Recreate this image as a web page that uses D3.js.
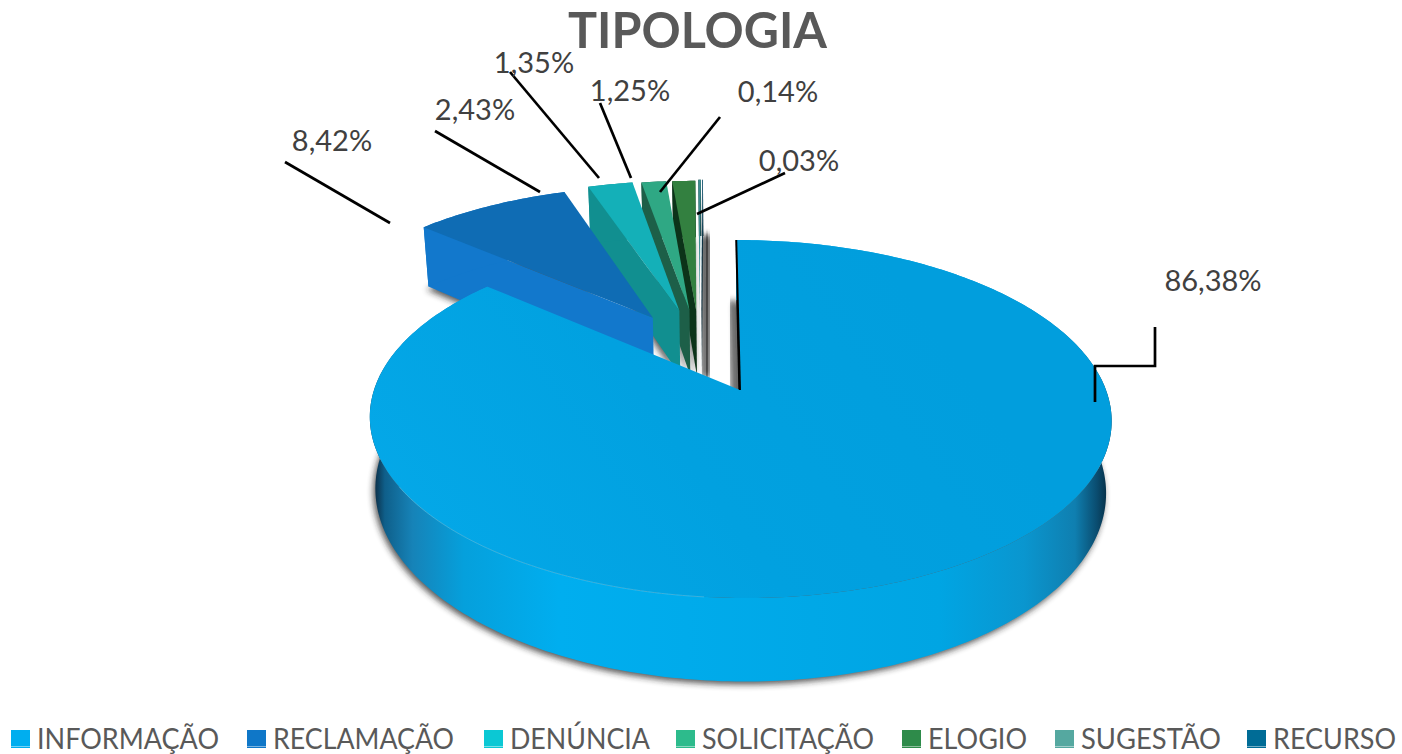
<!DOCTYPE html>
<html>
<head>
<meta charset="utf-8">
<script src="https://cdn.jsdelivr.net/npm/d3@7"></script>
<style>
  html, body { margin: 0; padding: 0; background: #fff; overflow: hidden; }
  svg { display: block; font-family: Lato, "Noto Sans", sans-serif; }
</style>
</head>
<body>
<div id="chart"></div>
<script>
// chart data
var categories = ["INFORMAÇÃO", "RECLAMAÇÃO", "DENÚNCIA", "SOLICITAÇÃO", "ELOGIO", "SUGESTÃO", "RECURSO"];
var values = [86.38, 8.42, 2.43, 1.35, 1.25, 0.14, 0.03];
var valueLabels = ["86,38%", "8,42%", "2,43%", "1,35%", "1,25%", "0,14%", "0,03%"];
var chartTitle = "TIPOLOGIA";

// look of each slice: legend, top face, side face
var legendColors = ["#00aeef", "#0f77c8", "#0bc8d4", "#2dbb8c", "#2e8b4a", "#55a8a0", "#006c96"];
var topColors = ["url(#mainTop)", "#0f6cb4", "#14b0b8", "#2fa884", "#338040", "#3f8f92", "#00577a"];
var sideColors = ["url(#mainSide)", "#1278cc", "#118f90", "#1d5f48", "#0c3319", "#0a2a2c", "#02202e"];

// how far each slice is pulled out, in pie radii (right, back)
var explode = [[0, 0], [-0.25, 0.445], [-0.173, 0.49], [-0.143, 0.49], [-0.123, 0.49], [-0.113, 0.5], [-0.108, 0.5]];

// label text anchors and leader lines
var labelAt = [[1213, 291], [332, 151], [475, 120], [534, 73], [630, 101], [778, 102], [799, 171]];
var leaders = [
    [[1095, 402], [1095, 366], [1155, 366], [1155, 327]],
    [[285, 162], [390, 223]],
    [[435, 131], [540, 192]],
    [[510, 72], [599, 178]],
    [[600, 103], [631, 178]],
    [[720, 117], [660, 192]],
    [[785, 173], [697, 214]]
];

// legend layout
var legendX = [11, 247, 484, 676, 902, 1055, 1247];
var legendTextLen = [182, 181, 140, 172, 99, 140, 123];

var width = 1402, height = 754;
var depth = 70;       // height of the pie
var persp = 0.162;    // far side shrinks by this much
var baseShrink = 0.985; // bottom rim looks a bit narrower than the top

var svg = d3.select("#chart").append("svg")
    .attr("width", width)
    .attr("height", height);

// scales for the pie plane, apex of the big slice at 0,0
var x = d3.scaleLinear().domain([-1, 1]).range([740 - 366, 740 + 366]);
var y = d3.scaleLinear().domain([-1, 1]).range([390 + 174.3, 390 - 174.3]);

function project(u, v, low) {
    var w = 1 + persp * v;
    var px = x((u - 0.012 * v) / w);
    var py = y(v / w);
    if (low) return [x(x.invert(px) * baseShrink), py + depth / w];
    return [px, py];
}

var slices = d3.pie().sort(null).value(d => d)(values);

// points along the rim of a slice
function rim(d, i, low) {
    var off = explode[i];
    var n = Math.max(2, Math.ceil((d.endAngle - d.startAngle) * 60));
    return d3.range(n + 1).map(k => {
        var a = d.startAngle + (d.endAngle - d.startAngle) * k / n;
        return project(Math.sin(a) + off[0], Math.cos(a) + off[1], low);
    });
}
function apex(i, low) {
    return project(explode[i][0], explode[i][1], low);
}

var line = d3.line();
function closed(pts) { return line(pts) + "Z"; }

// gradients
var defs = svg.append("defs");
function gradient(id, x1, y1, x2, y2, stops) {
    var g = defs.append("linearGradient")
        .attr("id", id)
        .attr("gradientUnits", "userSpaceOnUse")
        .attr("x1", x1).attr("y1", y1).attr("x2", x2).attr("y2", y2);
    stops.forEach(s => g.append("stop").attr("offset", s[0]).attr("stop-color", s[1]));
}
gradient("mainTop", 450, 600, 900, 280, [[0, "#04a8e8"], [0.5, "#01a1e0"], [1, "#019edd"]]);
gradient("mainSide", 376, 0, 1108, 0, [
    [0, "#0c3550"], [0.012, "#0f5f8a"], [0.05, "#1683b8"], [0.12, "#05a0dc"], [0.25, "#00aeef"],
    [0.77, "#00a5e3"], [0.885, "#0a96cf"], [0.955, "#0f7fb0"], [0.985, "#0a4c6f"], [1, "#062e45"]
]);
defs.append("filter").attr("id", "soft")
    .attr("x", "-60%").attr("y", "-20%").attr("width", "220%").attr("height", "140%")
    .append("feGaussianBlur").attr("stdDeviation", 3);

// far slices first, big slice last
var order = [6, 5, 4, 3, 2, 1, 0];
var pie = svg.append("g");

// soft shadow under the slices, the thin ones need some body to show
order.forEach(i => {
    var low = rim(slices[i], i, true).concat([apex(i, true)]);
    pie.append("path")
        .attr("d", closed(low))
        .attr("transform", i >= 5 ? "translate(5,3)" : "translate(-2,3)")
        .attr("fill", "#222")
        .attr("stroke", i >= 5 ? "#222" : "none")
        .attr("stroke-width", 8)
        .attr("opacity", 0.75)
        .attr("filter", "url(#soft)");
});
// shadow of the cut edge of the big slice
pie.append("path")
    .attr("d", line([[project(0, 1, true)[0] - 4, project(0, 1, true)[1]], [apex(0, true)[0] - 4, apex(0, true)[1]]]))
    .attr("stroke", "#222")
    .attr("stroke-width", 7)
    .attr("opacity", 0.7)
    .attr("fill", "none")
    .attr("filter", "url(#soft)");

order.forEach(i => {
    var d = slices[i];
    var top = rim(d, i, false), low = rim(d, i, true);
    var g = pie.append("g");

    // cut face on the start edge
    g.append("path")
        .attr("d", closed([apex(i, false), top[0], low[0], apex(i, true)]))
        .attr("fill", i == 0 ? "#000" : sideColors[i]);

    // outer wall
    g.append("path")
        .attr("d", closed(top.concat(low.slice().reverse())))
        .attr("fill", sideColors[i]);

    // top face
    g.append("path")
        .attr("d", closed(top.concat([apex(i, false)])))
        .attr("fill", topColors[i]);
});

// black seam on the start edge of the big slice, light rim on the front
pie.append("path")
    .attr("d", line([project(0, 1), apex(0, false)]))
    .attr("stroke", "#000")
    .attr("stroke-width", 2)
    .attr("fill", "none");
pie.append("path")
    .attr("d", line(rim({startAngle: Math.PI * 1.03, endAngle: Math.PI * 1.33}, 0, false)))
    .attr("stroke", "#5fd0f7")
    .attr("stroke-width", 1)
    .attr("opacity", 0.5)
    .attr("fill", "none");

// leader lines
svg.append("g").selectAll("path")
    .data(leaders)
    .join("path")
    .attr("d", d => line(d))
    .attr("fill", "none")
    .attr("stroke", "#000")
    .attr("stroke-width", 2.7);

// value labels
svg.append("g").selectAll("text")
    .data(valueLabels)
    .join("text")
    .attr("x", (d, i) => labelAt[i][0])
    .attr("y", (d, i) => labelAt[i][1])
    .attr("text-anchor", "middle")
    .attr("font-size", 29)
    .attr("fill", "#404040")
    .text(d => d);

// title
svg.append("text")
    .attr("x", 697.5)
    .attr("y", 48)
    .attr("text-anchor", "middle")
    .attr("font-size", 50)
    .attr("font-weight", 700)
    .attr("fill", "#595959")
    .attr("textLength", 259)
    .attr("lengthAdjust", "spacingAndGlyphs")
    .text(chartTitle);

// legend
var legend = svg.append("g");
categories.forEach((c, i) => {
    legend.append("rect")
        .attr("x", legendX[i]).attr("y", 730)
        .attr("width", 19).attr("height", 18)
        .attr("fill", legendColors[i]);
    legend.append("rect")
        .attr("x", legendX[i]).attr("y", 746)
        .attr("width", 19).attr("height", 1)
        .attr("fill", "#fff").attr("opacity", 0.45);
    legend.append("text")
        .attr("x", legendX[i] + 26)
        .attr("y", 748.5)
        .attr("font-size", 28)
        .attr("fill", "#595959")
        .attr("textLength", legendTextLen[i])
        .attr("lengthAdjust", "spacingAndGlyphs")
        .text(c);
});
</script>
</body>
</html>
